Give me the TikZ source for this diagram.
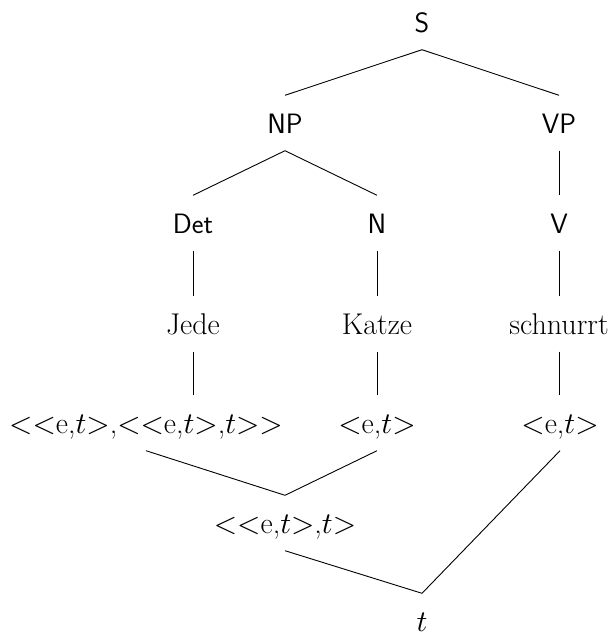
\documentclass[tikz,border=0pt]{standalone}
% let the math italic font scale to any size
\DeclareFontShape{OML}{cmm}{m}{it}{<-> cmmi10}{}
% angle brackets of the type labels, set as math relations
\newcommand\ltsym{$<$}
\newcommand\gtsym{$>$}
\newcommand\ttype{$t$}
\begin{document}
\begin{tikzpicture}[x=1pt,y=-1pt,
  lbl/.style={anchor=base,inner xsep=0pt,inner ysep=17.5pt,
    text height=20pt,text depth=0pt,font=\fontsize{30}{36}\selectfont},
  cat/.style={lbl,font=\fontsize{28}{34}\selectfont\sffamily},
  edge/.style={line width=0.9pt}]
\useasboundingbox (0,0) rectangle (612,637);
% syntactic categories
\node[cat] (s)   at (422,32)  {S};
\node[cat] (np)  at (285,133) {NP};
\node[cat] (vp)  at (559,133) {VP};
\node[cat] (det) at (193,233) {Det};
\node[cat] (n)   at (377,233) {N};
\node[cat] (v)   at (559,233) {V};
% words
\node[lbl] (jede)  at (193,334) {Jede};
\node[lbl] (katze) at (377,334) {Katze};
\node[lbl] (schn)  at (559,334) {schnurrt};
% semantic types
\node[lbl] (tdet) at (146,433) {\ltsym\ltsym e,\ttype\gtsym,\ltsym\ltsym e,\ttype\gtsym,\ttype\gtsym\gtsym};
\node[lbl] (tn)   at (377,433) {\ltsym e,\ttype\gtsym};
\node[lbl] (tv)   at (560,433) {\ltsym e,\ttype\gtsym};
\node[lbl] (tnp)  at (285,533) {\ltsym\ltsym e,\ttype\gtsym,\ttype\gtsym};
\node[lbl] (ts)   at (422,631) {\ttype};
% tree edges
\draw[edge] (s.south) -- (np.north);
\draw[edge] (s.south) -- (vp.north);
\draw[edge] (np.south) -- (det.north);
\draw[edge] (np.south) -- (n.north);
\draw[edge] (vp.south) -- (v.north);
\draw[edge] (det.south) -- (jede.north);
\draw[edge] (n.south) -- (katze.north);
\draw[edge] (v.south) -- (schn.north);
\draw[edge] (jede.south) -- (jede.south |- tdet.north);
\draw[edge] (katze.south) -- (tn.north);
\draw[edge] (schn.south) -- (schn.south |- tv.north);
% type composition
\draw[edge] (tdet.south) -- (tnp.north);
\draw[edge] (tn.south) -- (tnp.north);
\draw[edge] (tnp.south) -- (ts.north);
\draw[edge] (tv.south) -- (ts.north);
\end{tikzpicture}
\end{document}
